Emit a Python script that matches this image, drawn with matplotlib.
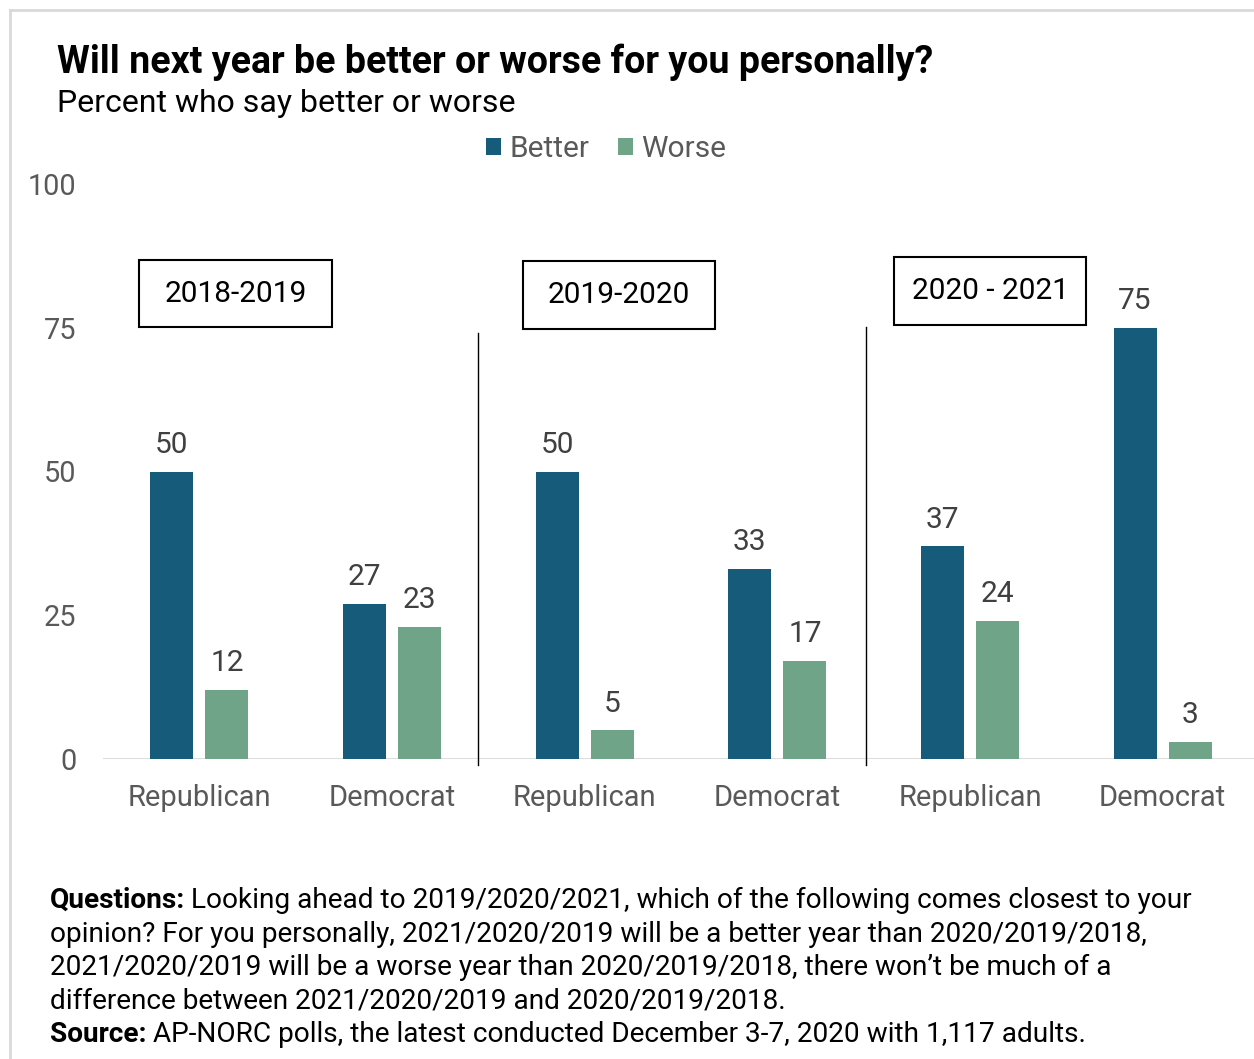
import matplotlib.pyplot as plt
import numpy as np
from matplotlib.patches import Rectangle
from matplotlib.lines import Line2D

plt.rcParams['font.family'] = ['Roboto', 'DejaVu Sans']

# poll results, percent
categories = ['Republican', 'Democrat', 'Republican', 'Democrat', 'Republican', 'Democrat']
periods = ['2018-2019', '2019-2020', '2020 - 2021']
better = [50, 27, 50, 33, 37, 75]
worse = [12, 23, 5, 17, 24, 3]
yticks = [0, 25, 50, 75, 100]

c_better = '#175b7a'
c_worse = '#70a488'
grey = '#595959'

W, H = 1254, 1059
fig = plt.figure(figsize=(W / 100, H / 100), dpi=100)

def fx(x):
    return x / W

def fy(y):
    return 1 - y / H

ax = fig.add_axes([fx(103), fy(759), fx(1156), fy(184) - fy(759)])

x = np.arange(len(categories))
bw = 0.223
off = 0.143
b1 = ax.bar(x - off, better, bw, color=c_better, label='Better')
b2 = ax.bar(x + off, worse, bw, color=c_worse, label='Worse')

for bars, vals in [(b1, better), (b2, worse)]:
    for r, v in zip(bars, vals):
        ax.annotate(str(v), (r.get_x() + r.get_width() / 2, v), xytext=(0, 13.5),
                    textcoords='offset points', ha='center', va='baseline',
                    fontsize=21.5, color='#404040')

ax.set_xlim(-0.5, 5.5)
ax.set_ylim(0, 100)
ax.set_yticks(yticks)
ax.set_xticks(x)
ax.set_xticklabels(categories)
ax.tick_params(axis='y', length=0, pad=19, labelsize=20.8, labelcolor=grey)
ax.tick_params(axis='x', length=0, pad=18, labelsize=21, labelcolor=grey)
for s in ax.spines.values():
    s.set_visible(False)
ax.axhline(0, color='#d9d9d9', lw=2, zorder=0)

# separators between the survey periods
for sx, top in [(1.447, 74.1), (3.46, 75.2)]:
    ax.plot([sx, sx], [-1.0, top], color='black', lw=1, clip_on=False)

# period boxes
boxes = [(139, 260, 193, 67), (523, 261, 192, 68), (894, 257, 192, 68)]
for (bx, by, bwid, bh), label in zip(boxes, periods):
    fig.patches.append(Rectangle((fx(bx), fy(by + bh)), fx(bwid), fy(by) - fy(by + bh),
                                 transform=fig.transFigure, fill=False,
                                 edgecolor='black', lw=1.5))
    fig.text(fx(bx + bwid / 2), fy(by + bh / 2), label, ha='center', va='center',
             fontsize=21.5, color='black')

ax.legend(loc='center', bbox_to_anchor=(fx(606), fy(149)), bbox_transform=fig.transFigure,
          ncol=2, frameon=False, fontsize=21.5, labelcolor=grey,
          handlelength=0.5, handleheight=0.5, handletextpad=0.27, columnspacing=0.95)

fig.text(fx(57), fy(62), 'Will next year be better or worse for you personally?',
         fontsize=27, fontweight='bold', va='center', ha='left')
fig.text(fx(57), fy(103), 'Percent who say better or worse', fontsize=23,
         va='center', ha='left')

# footnote, with bold lead-ins
fig.canvas.draw()
rend = fig.canvas.get_renderer()
fs = 20.2

def lead(y, head, rest):
    t = fig.text(fx(50), fy(y), head, fontsize=fs, fontweight='bold', va='center', ha='left')
    w = t.get_window_extent(renderer=rend).width
    fig.text(fx(50) + (w + 6) / W, fy(y), rest, fontsize=fs, va='center', ha='left')

lead(900, 'Questions:', 'Looking ahead to 2019/2020/2021, which of the following comes closest to your')
notes = ['opinion? For you personally, 2021/2020/2019 will be a better year than 2020/2019/2018,',
         '2021/2020/2019 will be a worse year than 2020/2019/2018, there won\u2019t be much of a',
         'difference between 2021/2020/2019 and 2020/2019/2018.']
for i, line in enumerate(notes):
    fig.text(fx(50), fy(934 + i * 33.5), line, fontsize=fs, va='center', ha='left')
lead(1034, 'Source:', 'AP-NORC polls, the latest conducted December 3-7, 2020 with 1,117 adults.')

# outer frame (top and left edges)
fig.add_artist(Line2D([fx(10), 1], [fy(10), fy(10)], transform=fig.transFigure, color='#d9d9d9', lw=2))
fig.add_artist(Line2D([fx(10), fx(10)], [fy(10), 0], transform=fig.transFigure, color='#d9d9d9', lw=2))

fig.savefig('out.png', dpi=100)
